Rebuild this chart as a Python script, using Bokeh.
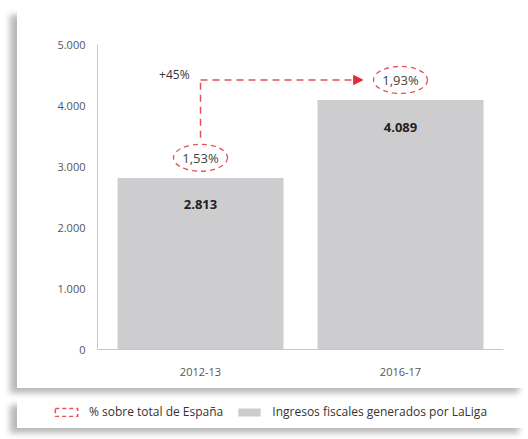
from bokeh.plotting import figure
from bokeh.models import (Range1d, FixedTicker, Arrow, NormalHead, Legend, LegendItem,
                          ColumnDataSource)
from bokeh.layouts import column
from bokeh.core.properties import value
from bokeh.embed import file_html
from bokeh.resources import INLINE

# ---- data ----
seasons = ["2012-13", "2016-17"]
ingresos = [2813, 4089]
pct_espana = ["1,53%", "1,93%"]
growth_label = "+45%"
y_ticks = [0, 1000, 2000, 3000, 4000, 5000]
legend_labels = ["% sobre total de España", "Ingresos fiscales generados por LaLiga"]

FONT = "Open Sans"
BAR = "#cdcdcf"
RED = "#e8505a"
TXT = "#333333"
AX = "#555555"

xs = [i + 0.5 for i in range(len(seasons))]

p = figure(width=511, height=380, x_range=Range1d(-0.015, 2.015), y_range=Range1d(0, 5000),
           output_backend="svg", toolbar_location=None,
           min_border_left=80, min_border_right=25, min_border_top=36, min_border_bottom=39)
p.outline_line_color = None
p.xgrid.grid_line_color = None
p.ygrid.grid_line_color = None
p.background_fill_color = "white"
p.border_fill_color = "white"
p.styles = {"box-shadow": "-8px 6px 6px -1px rgba(0,0,0,0.28)"}

# axes
p.yaxis.ticker = FixedTicker(ticks=y_ticks)
p.yaxis.major_label_overrides = {t: f"{t:,}".replace(",", ".") for t in y_ticks}
p.xaxis.ticker = FixedTicker(ticks=xs)
p.xaxis.major_label_overrides = {x: s for x, s in zip(xs, seasons)}
for ax in (p.xaxis, p.yaxis):
    ax.axis_line_color = "#c8c8c8"
    ax.major_tick_line_color = None
    ax.minor_tick_line_color = None
    ax.major_label_text_font = FONT
    ax.major_label_text_font_size = "11px"
    ax.major_label_text_color = AX
p.yaxis.major_label_standoff = 6
p.xaxis.major_label_standoff = 12

src = ColumnDataSource(dict(x=xs, top=ingresos,
                            lab=[f"{v:,}".replace(",", ".") for v in ingresos],
                            pct=pct_espana,
                            py=[v + 330 for v in ingresos]))

bars = p.vbar(x="x", top="top", width=0.83, bottom=0, source=src,
              fill_color=BAR, line_color=None)

p.text(x="x", y="top", text="lab", source=src, y_offset=27,
       text_align="center", text_baseline="middle",
       text_font=value(FONT), text_font_size="13px", text_font_style="bold",
       text_color="#222222")

# percentage labels with dashed ellipses
ell = p.ellipse(x="x", y="py", width=54, height=27, width_units="screen", height_units="screen",
                source=src, fill_color=None, line_color=RED, line_dash="5 4", line_width=1.3)
p.text(x="x", y="py", text="pct", source=src, text_align="center", text_baseline="middle",
       text_font=value(FONT), text_font_size="13px", text_color="#444444")

# arrow linking the two percentages
y_low = src.data["py"][0] + 330
y_high = src.data["py"][1]
px_per_unit = 201.0
p.add_layout(Arrow(end=None, x_start=xs[0], y_start=y_low, x_end=xs[0], y_end=y_high,
                   line_color=RED, line_dash="7 5", line_width=1.5))
p.add_layout(Arrow(end=NormalHead(size=9, fill_color="#e42a35", line_color="#e42a35"),
                   x_start=xs[0], y_start=y_high, x_end=xs[1] - 38 / px_per_unit, y_end=y_high,
                   line_color=RED, line_dash="7 5", line_width=1.5))
p.text(x=[xs[0] - 11 / px_per_unit], y=[y_high], text=[growth_label], y_offset=-5,
       text_align="right", text_baseline="middle",
       text_font=value(FONT), text_font_size="12px", text_color=TXT)

# ---- legend card ----
lf = figure(width=511, height=30, x_range=Range1d(0, 1), y_range=Range1d(0, 1),
            output_backend="svg", toolbar_location=None,
            x_axis_location=None, y_axis_location=None,
            min_border=0, min_border_left=0, min_border_right=0,
            min_border_top=0, min_border_bottom=0)
lf.frame_align = False
lf.grid.visible = False
lf.outline_line_color = None
lf.border_fill_color = "white"
lf.background_fill_color = "white"
lf.styles = {"box-shadow": "-8px 6px 6px -1px rgba(0,0,0,0.28)"}
r1 = lf.rect(x=[-5], y=[-5], width=0.1, height=0.1, fill_color=None, line_color=RED,
             line_dash="4 3", line_width=1.5)
r2 = lf.rect(x=[-5], y=[-5], width=0.1, height=0.1, fill_color=BAR, line_color=None)
leg = Legend(items=[LegendItem(label=legend_labels[0], renderers=[r1]),
                    LegendItem(label=legend_labels[1], renderers=[r2])],
             location=(35, 8), orientation="horizontal",
             border_line_color=None, background_fill_alpha=0,
             glyph_width=28, glyph_height=10, label_standoff=9, spacing=12,
             label_text_font=FONT, label_text_font_size="12px", label_text_color=TXT,
             padding=0, margin=0)
lf.add_layout(leg, "center")

layout = column(p, lf, spacing=10, margin=(8, 0, 0, 17))

open("out.html", "w").write(file_html(layout, INLINE))
